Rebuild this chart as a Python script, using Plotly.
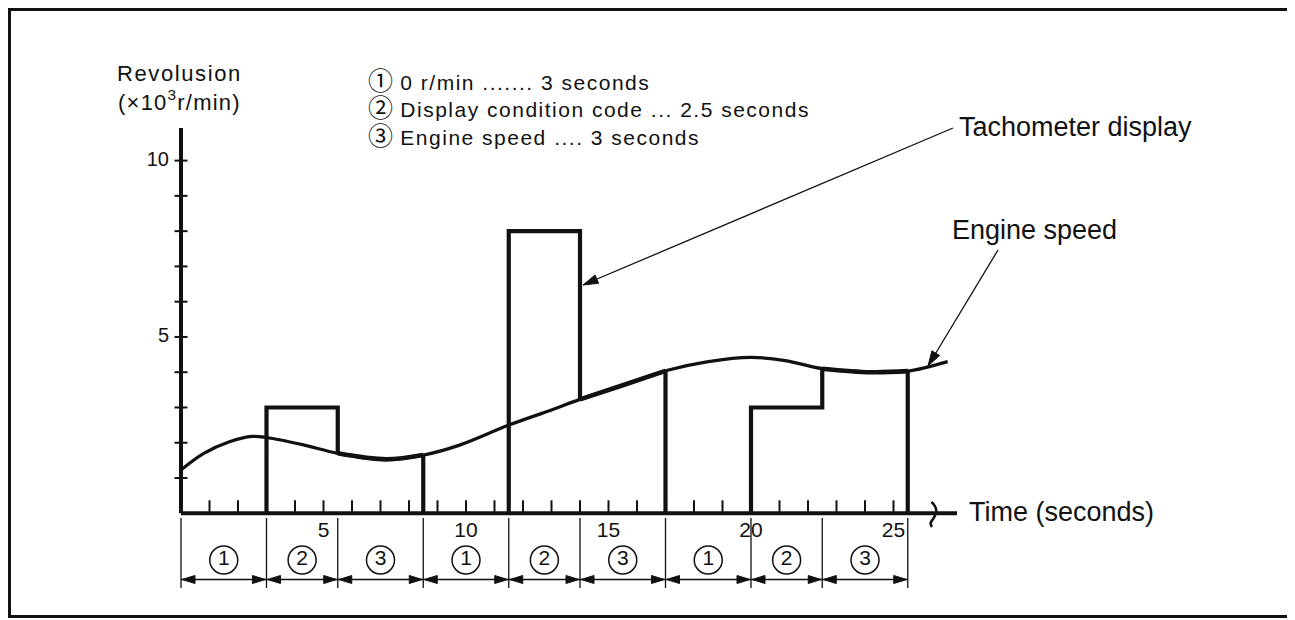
import numpy as np
import plotly.graph_objects as go

# ---------------- data ----------------
engine_t = [0, 0.8, 1.7, 2.5, 3, 4.3, 5.5, 7.2, 8.5, 9.8, 11.5, 13, 14, 15.5,
            17, 18.5, 20, 21.2, 22.5, 24.2, 25.5, 26.9]
engine_v = [1.23, 1.70, 2.03, 2.18, 2.15, 1.94, 1.70, 1.53, 1.65, 1.94, 2.50,
            2.93, 3.23, 3.63, 4.04, 4.30, 4.42, 4.33, 4.10, 4.00, 4.03, 4.30]
phase_bounds = [0, 3, 5.5, 8.5, 11.5, 14, 17, 20, 22.5, 25.5]
phase_numbers = ["1", "2", "3", "1", "2", "3", "1", "2", "3"]
code_display = [3, 8, 3]          # value shown during each ② phase (×10³ r/min)
x_tick_vals = list(range(1, 26))
x_label_vals = [5, 10, 15, 20, 25]
x_label_text = ["5", "10", "15", "20", "25"]
y_tick_vals = list(range(1, 11))
y_label_vals = [5, 10]
y_label_text = ["5", "10"]
legend_marks = ["①", "②", "③"]
legend_lines = ["0 r/min ....... 3 seconds",
                "Display condition code ... 2.5 seconds",
                "Engine speed .... 3 seconds"]

# ---------------- page pixel <-> data helpers ----------------
PAGE_W, PAGE_H = 1295, 620
OFF = 8                    # default body margin of the html page
W, H = PAGE_W - OFF, PAGE_H - OFF
PX0, SX = 181.0, 28.5      # page pixel of t=0, pixels per second
PY0, SY = 513.3, 35.27     # page pixel of 0 r/min, pixels per 1000 r/min


def dx(px):
    return (px - PX0) / SX


def dy(py):
    return (PY0 - py) / SY


FONT = "Liberation Sans, Arial, Helvetica, Noto Sans CJK JP, sans-serif"
BLACK = "#111111"

fig = go.Figure()


def line(xs, ys, width, shape="linear"):
    fig.add_trace(go.Scatter(x=xs, y=ys, mode="lines", hoverinfo="skip",
                             line=dict(color=BLACK, width=width, shape=shape),
                             showlegend=False))


def filled(xs, ys):
    fig.add_trace(go.Scatter(x=xs, y=ys, mode="lines", fill="toself",
                             fillcolor=BLACK, line=dict(color=BLACK, width=1),
                             hoverinfo="skip", showlegend=False))


# engine speed curve
line(engine_t, engine_v, 3.2, "spline")

# tachometer display
for k, level in enumerate(code_display):
    a1, b1, b2, b3 = phase_bounds[3 * k + 1], phase_bounds[3 * k + 2], \
        phase_bounds[3 * k + 2], phase_bounds[3 * k + 3]
    v_b1 = float(np.interp(b1, engine_t, engine_v))
    v_b3 = float(np.interp(b3, engine_t, engine_v))
    line([a1, a1, b1, b1], [0, level, level, v_b1], 4.2)
    seg_t = [t for t in engine_t if b2 <= t <= b3]
    seg_v = [v for t, v in zip(engine_t, engine_v) if b2 <= t <= b3]
    line(seg_t, seg_v, 4.6, "spline")
    line([b3, b3], [v_b3, 0], 4.2)

# axes
x_axis_end = dx(957)
y_axis_end = dy(128)
line([0, x_axis_end], [0, 0], 4)
line([0, 0], [0, y_axis_end], 4)

# y ticks (crossing the axis)
hw = 6.5 / SX
xs, ys = [], []
for v in y_tick_vals:
    xs += [-hw, hw, None]
    ys += [v, v, None]
line(xs, ys, 2)

# x ticks (inside, upward)
tl = 13 / SY
xs, ys = [], []
for t in x_tick_vals:
    xs += [t, t, None]
    ys += [0, tl, None]
line(xs, ys, 2)

# break mark on time axis
tb = dx(932)
br_x = [tb - 0.02, tb + 0.1, tb + 0.15, tb + 0.06, tb - 0.05, tb]
br_y = [dy(502), dy(506), dy(512), dy(518), dy(523), dy(527)]
line(br_x, br_y, 2.6, "spline")

# tick labels
fig.add_trace(go.Scatter(x=x_label_vals, y=[dy(531.5)] * len(x_label_vals),
                         text=x_label_text, mode="text", hoverinfo="skip",
                         textfont=dict(family=FONT, size=21, color=BLACK),
                         showlegend=False))
fig.add_trace(go.Scatter(x=[dx(169)] * len(y_label_vals), y=y_label_vals,
                         text=y_label_text, mode="text", textposition="middle left",
                         hoverinfo="skip",
                         textfont=dict(family=FONT, size=20, color=BLACK),
                         showlegend=False))

# dimension lines under the axis
xs, ys = [], []
for b in phase_bounds:
    xs += [b, b, None]
    ys += [dy(518), dy(588), None]
line(xs, ys, 1.3)

y_arr = dy(579.5)
xs, ys = [], []
for a, b in zip(phase_bounds[:-1], phase_bounds[1:]):
    xs += [a, b, None]
    ys += [y_arr, y_arr, None]
line(xs, ys, 1.4)

head_len = 13 / SX
head_hw = 4 / SY
gap = 1 / SX
tx, ty = [], []
for a, b in zip(phase_bounds[:-1], phase_bounds[1:]):
    tx += [a + gap, a + gap + head_len, a + gap + head_len, a + gap, None]
    ty += [y_arr, y_arr + head_hw, y_arr - head_hw, y_arr, None]
    tx += [b - gap, b - gap - head_len, b - gap - head_len, b - gap, None]
    ty += [y_arr, y_arr + head_hw, y_arr - head_hw, y_arr, None]
filled(tx, ty)

# circled phase numbers
mids = [(a + b) / 2 for a, b in zip(phase_bounds[:-1], phase_bounds[1:])]
fig.add_trace(go.Scatter(x=mids, y=[dy(560)] * len(mids), mode="markers+text",
                         text=phase_numbers, textposition="middle center",
                         marker=dict(symbol="circle-open", size=28, color=BLACK,
                                     line=dict(width=1.5, color=BLACK)),
                         hoverinfo="skip",
                         textfont=dict(family=FONT, size=21, color=BLACK),
                         showlegend=False))


# pointer arrows (line + filled head), defined in page pixels
def pointer(hx, hy, sx_, sy_, hl=15, hwid=4.5):
    line([dx(sx_), dx(hx)], [dy(sy_), dy(hy)], 1.3)
    ux, uy = sx_ - hx, sy_ - hy
    n = (ux ** 2 + uy ** 2) ** 0.5
    ux, uy = ux / n, uy / n
    bx, by = hx + ux * hl, hy + uy * hl
    px_, py_ = -uy * hwid, ux * hwid
    filled([dx(hx), dx(bx + px_), dx(bx - px_), dx(hx)],
           [dy(hy), dy(by + py_), dy(by - py_), dy(hy)])


pointer(583, 285, 953, 128)
pointer(928, 366, 998, 250)

# ---------------- text annotations ----------------
ann = []


def text(px, py, s, size, anchor="left"):
    ann.append(dict(x=dx(px), y=dy(py), xref="x", yref="y", text=s,
                    showarrow=False, xanchor=anchor, yanchor="middle",
                    align=anchor, font=dict(family=FONT, size=size, color=BLACK)))


text(179, 88, "<span style='letter-spacing:1.6px'>Revolusion</span><br>"
              "<span style='letter-spacing:1.2px'>(×10<sup>3</sup>r/min)</span>",
     22, "center")
legend_html = "<br>".join(
    f"<span style='font-size:25px'>{m}</span>"
    f"<span style='letter-spacing:1.5px'> {s}</span>"
    for m, s in zip(legend_marks, legend_lines))
text(366, 108, legend_html, 21)
text(957, 127, "Tachometer display", 27)
text(950, 230, "Engine speed", 27)
text(967, 512, "Time (seconds)", 27)

fig.update_layout(
    width=W, height=H, margin=dict(l=0, r=0, t=0, b=0),
    paper_bgcolor="white", plot_bgcolor="white",
    xaxis=dict(range=[dx(OFF), dx(PAGE_W)], visible=False, fixedrange=True),
    yaxis=dict(range=[dy(PAGE_H), dy(OFF)], visible=False, fixedrange=True),
    annotations=ann,
    shapes=[dict(type="rect", xref="paper", yref="paper",
                 x0=(9.5 - OFF) / W, x1=(1292.5 - OFF) / W,
                 y0=1 - (616.5 - OFF) / H, y1=1 - (9.5 - OFF) / H,
                 line=dict(color=BLACK, width=3))],
    showlegend=False,
)

fig.write_html("out.html")
